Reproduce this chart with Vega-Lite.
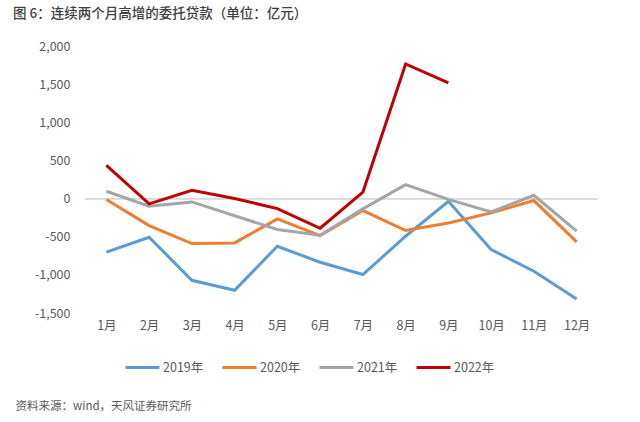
{
  "$schema": "https://vega.github.io/schema/vega-lite/v6.json",
  "width": 513,
  "height": 267,
  "autosize": {"type": "none"},
  "padding": {"left": 85, "top": 46, "right": 42, "bottom": 109},
  "background": "white",
  "config": {"view": {"stroke": null}, "axis": {"labelOverlap": false}},
  "title": {
    "text": "图 6：连续两个月高增的委托贷款（单位：亿元）",
    "anchor": "start",
    "frame": "group",
    "dx": -72,
    "offset": 20,
    "fontSize": 13.5,
    "font": "Noto Sans CJK SC",
    "fontWeight": 500,
    "color": "#404040"
  },
  "data": {
    "values": [
      {"month": "1月", "year": "2019年", "value": -703},
      {"month": "2月", "year": "2019年", "value": -507},
      {"month": "3月", "year": "2019年", "value": -1071},
      {"month": "4月", "year": "2019年", "value": -1202},
      {"month": "5月", "year": "2019年", "value": -625},
      {"month": "6月", "year": "2019年", "value": -835},
      {"month": "7月", "year": "2019年", "value": -996},
      {"month": "8月", "year": "2019年", "value": -494},
      {"month": "9月", "year": "2019年", "value": -35},
      {"month": "10月", "year": "2019年", "value": -668},
      {"month": "11月", "year": "2019年", "value": -952},
      {"month": "12月", "year": "2019年", "value": -1315},
      {"month": "1月", "year": "2020年", "value": -13},
      {"month": "2月", "year": "2020年", "value": -354},
      {"month": "3月", "year": "2020年", "value": -590},
      {"month": "4月", "year": "2020年", "value": -581},
      {"month": "5月", "year": "2020年", "value": -266},
      {"month": "6月", "year": "2020年", "value": -485},
      {"month": "7月", "year": "2020年", "value": -157},
      {"month": "8月", "year": "2020年", "value": -419},
      {"month": "9月", "year": "2020年", "value": -319},
      {"month": "10月", "year": "2020年", "value": -188},
      {"month": "11月", "year": "2020年", "value": -26},
      {"month": "12月", "year": "2020年", "value": -568},
      {"month": "1月", "year": "2021年", "value": 96},
      {"month": "2月", "year": "2021年", "value": -100},
      {"month": "3月", "year": "2021年", "value": -44},
      {"month": "4月", "year": "2021年", "value": -225},
      {"month": "5月", "year": "2021年", "value": -406},
      {"month": "6月", "year": "2021年", "value": -481},
      {"month": "7月", "year": "2021年", "value": -135},
      {"month": "8月", "year": "2021年", "value": 183},
      {"month": "9月", "year": "2021年", "value": -10},
      {"month": "10月", "year": "2021年", "value": -174},
      {"month": "11月", "year": "2021年", "value": 43},
      {"month": "12月", "year": "2021年", "value": -428},
      {"month": "1月", "year": "2022年", "value": 436},
      {"month": "2月", "year": "2022年", "value": -70},
      {"month": "3月", "year": "2022年", "value": 109},
      {"month": "4月", "year": "2022年", "value": 0},
      {"month": "5月", "year": "2022年", "value": -131},
      {"month": "6月", "year": "2022年", "value": -389},
      {"month": "7月", "year": "2022年", "value": 83},
      {"month": "8月", "year": "2022年", "value": 1765},
      {"month": "9月", "year": "2022年", "value": 1516}
    ]
  },
  "layer": [
    {
      "mark": {"type": "rule", "color": "#d9d9d9", "strokeWidth": 1},
      "encoding": {
        "y": {
          "datum": 0,
          "type": "quantitative",
          "scale": {"domain": [-1500, 2000], "nice": false, "zero": false},
          "axis": {
            "values": [-1500, -1000, -500, 0, 500, 1000, 1500, 2000],
            "labelExpr": "replace(format(datum.value, ','), '−', '-')",
            "labelOverlap": false,
            "domain": false,
            "ticks": false,
            "grid": false,
            "labelPadding": 15,
            "labelFont": "Noto Sans CJK SC",
            "labelFontSize": 12.5,
            "labelColor": "#595959",
            "title": null
          }
        }
      }
    },
    {
      "mark": {"type": "line", "strokeWidth": 3},
      "encoding": {
        "x": {
          "field": "month",
          "type": "ordinal",
          "sort": ["1月","2月","3月","4月","5月","6月","7月","8月","9月","10月","11月","12月"],
          "scale": {"type": "point", "padding": 0.5},
          "axis": {
            "domain": false,
            "ticks": false,
            "labelAngle": 0,
            "labelPadding": 6,
            "labelFont": "Noto Sans CJK SC",
            "labelFontSize": 12.5,
            "labelColor": "#595959",
            "title": "资料来源：wind，天风证券研究所",
            "titleFont": "Noto Sans CJK SC",
            "titleFontSize": 11.5,
            "titleFontWeight": "normal",
            "titleColor": "#595959",
            "titleAnchor": "start",
            "titleAlign": "left",
            "titleBaseline": "middle",
            "titleX": -70,
            "titleY": 93
          }
        },
        "y": {
          "field": "value",
          "type": "quantitative",
          "scale": {"domain": [-1500, 2000], "nice": false, "zero": false},
          "axis": {
            "values": [-1500, -1000, -500, 0, 500, 1000, 1500, 2000],
            "labelExpr": "replace(format(datum.value, ','), '−', '-')",
            "labelOverlap": false,
            "domain": false,
            "ticks": false,
            "grid": false,
            "labelPadding": 15,
            "labelFont": "Noto Sans CJK SC",
            "labelFontSize": 12.5,
            "labelColor": "#595959",
            "title": null
          }
        },
        "color": {
          "field": "year",
          "type": "nominal",
          "scale": {
            "domain": ["2019年", "2020年", "2021年", "2022年"],
            "range": ["#5b9bd5", "#ed7d31", "#a5a5a5", "#c00000"]
          },
          "legend": {
            "title": null,
            "orient": "none",
            "legendX": 39,
            "legendY": 303,
            "direction": "horizontal",
            "columns": 4,
            "columnPadding": 12,
            "symbolType": "stroke",
            "symbolSize": 1156,
            "symbolStrokeWidth": 3,
            "labelOffset": 2,
            "labelFont": "Noto Sans CJK SC",
            "labelFontSize": 12.5,
            "labelColor": "#595959"
          }
        }
      }
    }
  ]
}
